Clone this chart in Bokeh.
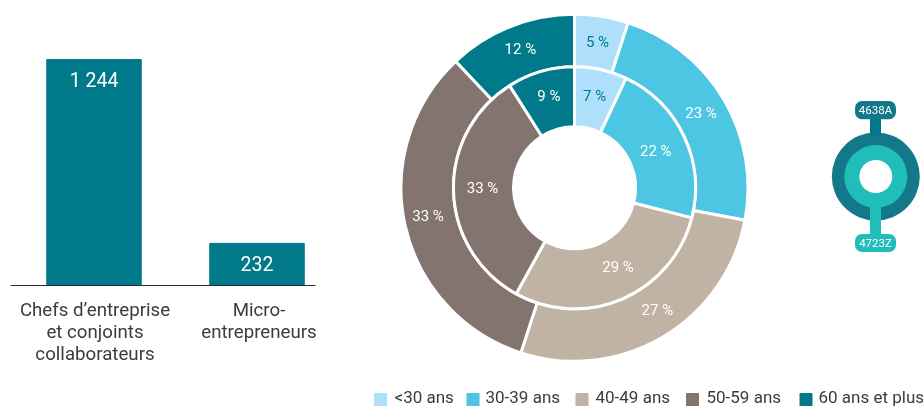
import math
from bokeh.plotting import figure
from bokeh.models import Range1d
from bokeh.core.properties import value
from bokeh.embed import file_html
from bokeh.resources import INLINE

# Data
bar_categories = [["Chefs d’entreprise", "et conjoints", "collaborateurs"], ["Micro-", "entrepreneurs"]]
bar_values = [1244, 232]
bar_labels = ["1 244", "232"]
age_labels = ["<30 ans", "30-39 ans", "40-49 ans", "50-59 ans", "60 ans et plus"]
outer_values = [5, 23, 27, 33, 12]
inner_values = [7, 22, 29, 33, 9]
age_colors = ["#aee0fb", "#4cc6e2", "#c1b3a3", "#84746f", "#007a8b"]
label_colors = ["#007a8b", "white", "white", "white", "white"]
code_labels = ["4638A", "4723Z"]
code_colors = ["#13788a", "#21bdb9"]

W, H = 923, 406
FONT = "Roboto"
TEAL = "#007a8b"

p = figure(width=W, height=H, output_backend="svg", toolbar_location=None,
           x_range=Range1d(0, W), y_range=Range1d(0, H), min_border=0,
           styles={"position": "fixed", "left": "0px", "top": "0px"})
p.axis.visible = False
p.grid.visible = False
p.outline_line_color = None
p.background_fill_color = "white"


def py(y):
    return H - y


# ---- bars: own value scale, baseline at pixel 285, 226 px for 1244
scale = 226 / 1244
p.extra_y_ranges = {"bars": Range1d(-(H - 285) / scale, 285 / scale)}
bar_x = [93.5, 256.5]
p.vbar(x=bar_x, top=bar_values, bottom=0, width=94.5, color=TEAL, y_range_name="bars")
p.line(x=[10, 315], y=[0, 0], line_color="#2b2b2b", line_width=1.2, y_range_name="bars")
for x, v, lab in zip(bar_x, bar_values, bar_labels):
    p.text(x=[x], y=[v], text=[lab], y_range_name="bars", y_offset=[21 if v > 500 else 20],
           text_font=value(FONT), text_font_size="19.5px", text_color="white",
           text_align="center", text_baseline="middle")
for x, lines in zip([94.5, 258.5], bar_categories):
    for i, t in enumerate(lines):
        p.text(x=[x], y=[py(309 + 22 * i)], text=[t], text_font=value(FONT),
               text_font_size="18.7px", text_color="#3c3c3c",
               text_align="center", text_baseline="middle")

# ---- double donut
cx, cy = 574, py(187.3)


def ring(vals, r0, r1, rlab, nudges):
    cum = 0
    total = sum(vals)
    for v, col, lc, (dx, dy) in zip(vals, age_colors, label_colors, nudges):
        a0 = math.pi / 2 - 2 * math.pi * cum / total
        a1 = math.pi / 2 - 2 * math.pi * (cum + v) / total
        p.annular_wedge(x=[cx], y=[cy], inner_radius=r0, outer_radius=r1,
                        start_angle=a0, end_angle=a1, direction="clock",
                        fill_color=col, line_color="white", line_width=3)
        am = (a0 + a1) / 2
        p.text(x=[cx + rlab * math.cos(am) + dx], y=[cy + rlab * math.sin(am) + dy], text=[f"{v} %"],
               text_font=value(FONT), text_font_size="15px", text_color=lc,
               text_align="center", text_baseline="middle")
        cum += v


ring(outer_values, 121, 173.5, 147, [(0, 1), (0, 0), (8, 4), (-3, 4), (0, 2)])
ring(inner_values, 61, 121, 92, [(0, 2), (-2, -2), (7, 5), (0, 3), (0, 3)])

# ---- legend
sw_x = [374, 466.5, 575.5, 686, 799.5]
tx_x = [394, 485, 595, 706, 818]
for sx, tx, lab, col in zip(sw_x, tx_x, age_labels, age_colors):
    p.quad(left=sx, right=sx + 12, top=py(393), bottom=py(405.5), color=col)
    p.text(x=[tx], y=[py(396.5)], text=[lab], text_font=value(FONT), text_font_size="17px",
           text_color="#3c3c3c", text_align="left", text_baseline="middle")

# ---- activity-code badge
ix, iy = 875.3, py(176)
p.circle(x=[ix], y=[iy], radius=44, fill_color=code_colors[0], line_color=None)
p.quad(left=870, right=880, top=py(116), bottom=py(135), color=TEAL)
p.circle(x=[ix], y=[iy], radius=31.5, fill_color=code_colors[1], line_color=None)
p.quad(left=870, right=880, top=py(200), bottom=py(236), color=code_colors[1])
p.circle(x=[ix], y=[iy], radius=16.5, fill_color="white", line_color=None)
for lab, col, y0, y1 in zip(code_labels, code_colors, [100.5, 233.5], [118.7, 251.5]):
    p.quad(left=854.5, right=895.5, top=py(y0), bottom=py(y1), fill_color=col, line_color=None,
           border_radius=7)
    p.text(x=[875], y=[py((y0 + y1) / 2)], text=[lab], text_font=value(FONT),
           text_font_size="11.5px", text_color="white", text_align="center", text_baseline="middle")

open("out.html", "w").write(file_html(p, INLINE))
